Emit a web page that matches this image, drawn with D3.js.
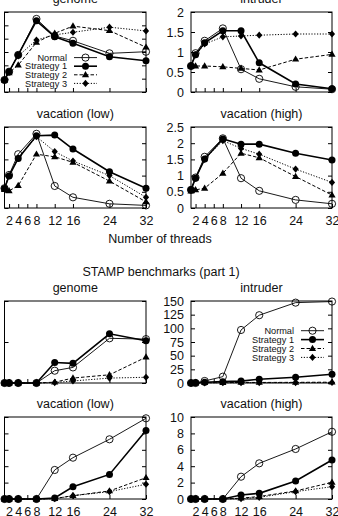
<!DOCTYPE html>
<html>
<head>
<meta charset="utf-8">
<script src="https://cdn.jsdelivr.net/npm/d3@7"></script>
<style>
  body { margin: 0; background: #fff; }
  svg { display: block; font-family: "Liberation Sans", Arial, sans-serif; }
</style>
</head>
<body>
<div id="chart"></div>
<script>
/* STAMP benchmarks: speedup (top) and part 1 (bottom), 4 strategies */

const threads = [1, 2, 4, 8, 12, 16, 24, 32];
const xTicks = [2, 4, 6, 8, 12, 16, 24, 32];
const names = ["Normal", "Strategy 1", "Strategy 2", "Strategy 3"];

// each panel: [Normal, Strategy 1, Strategy 2, Strategy 3]
const genomeTop = [
  [0.45, 0.76, 1.39, 2.74, 2.10, 1.92, 1.45, 1.51],
  [0.45, 0.76, 1.39, 2.67, 2.07, 1.83, 1.32, 1.17],
  [0.45, 0.72, 1.01, 1.86, 2.20, 2.47, 2.30, 1.68],
  [0.45, 0.76, 1.35, 1.95, 2.14, 2.24, 2.43, 2.29]
];
const intruderTop = [
  [0.65, 0.97, 1.28, 1.59, 0.57, 0.33, 0.13, 0.07],
  [0.65, 0.93, 1.23, 1.53, 1.53, 0.73, 0.20, 0.08],
  [0.65, 0.65, 0.65, 0.63, 0.59, 0.55, 0.82, 0.94],
  [0.65, 0.93, 1.20, 1.38, 1.40, 1.42, 1.45, 1.45]
];
const vacLowTop = [
  [0.61, 1.02, 1.66, 2.29, 0.68, 0.33, 0.13, 0.08],
  [0.60, 0.99, 1.53, 2.23, 2.25, 1.82, 1.12, 0.61],
  [0.57, 0.53, 0.69, 1.66, 1.58, 1.41, 0.83, 0.19],
  [0.60, 0.99, 1.55, 2.20, 1.74, 1.45, 1.00, 0.33]
];
const vacHighTop = [
  [0.56, 0.94, 1.58, 2.15, 0.92, 0.53, 0.25, 0.13],
  [0.56, 0.92, 1.51, 2.13, 1.97, 1.97, 1.69, 1.48],
  [0.52, 0.56, 0.61, 1.07, 1.69, 1.55, 0.97, 0.40],
  [0.56, 0.92, 1.50, 2.08, 1.84, 1.66, 1.20, 0.79]
];
const genomeBottom = [
  [0, 0, 0, 0, 0.30, 0.38, 1.09, 1.07],
  [0, 0, 0, 0, 0.50, 0.48, 1.20, 1.03],
  [0, 0, 0, 0, 0.02, 0.12, 0.20, 0.63],
  [0, 0, 0, 0, 0.01, 0.05, 0.12, 0.14]
];
const intruderBottom = [
  [0, 0, 3.7, 11.6, 97, 124, 147, 149],
  [0, 0.5, 1.5, 2.5, 3.5, 7, 10.4, 16],
  [0, 0.3, 0.6, 0.8, 1, 1, 1.2, 1.5],
  [0, 0.2, 0.4, 0.5, 0.6, 0.7, 0.8, 0.9]
];
const vacLowBottom = [
  [0, 0, 0, 0, 1.77, 2.52, 3.64, 4.92],
  [0, 0, 0, 0, 0.06, 0.75, 1.50, 4.17],
  [0, 0, 0, 0, 0.03, 0.20, 0.49, 1.30],
  [0, 0, 0, 0, 0.02, 0.20, 0.45, 0.90]
];
const vacHighBottom = [
  [0, 0, 0, 0, 2.72, 4.35, 6.10, 8.20],
  [0, 0, 0, 0, 0.49, 0.69, 2.20, 4.76],
  [0, 0, 0, 0, 0.10, 0.30, 0.98, 2.03],
  [0, 0, 0, 0, 0.05, 0.20, 0.90, 1.50]
];

const width = 338,
      height = 516;

const cols = [[4.5, 146], [191, 332]];
const rows = [[12, 92], [127, 208], [301, 383], [417, 499]];

/* line style per series */
const styles = [
  { w: 0.9, dash: null, mark: "open" },
  { w: 1.6, dash: null, mark: "dot" },
  { w: 1, dash: "3.5,2", mark: "tri" },
  { w: 1, dash: "1.2,1.6", mark: "dia" }
];

const panels = [
  { title: "genome", data: genomeTop, max: 3, step: 0.5, col: 0, row: 0, yLabels: false },
  { title: "intruder", data: intruderTop, max: 2, step: 0.5, col: 1, row: 0, yLabels: true },
  { title: "vacation (low)", data: vacLowTop, max: 2.5, step: 0.5, col: 0, row: 1, yLabels: false },
  { title: "vacation (high)", data: vacHighTop, max: 2.5, step: 0.5, col: 1, row: 1, yLabels: true },
  { title: "genome", data: genomeBottom, max: 2, step: 1, col: 0, row: 2, yLabels: false },
  { title: "intruder", data: intruderBottom, max: 150, step: 25, col: 1, row: 2, yLabels: true },
  { title: "vacation (low)", data: vacLowBottom, max: 5, step: 1, col: 0, row: 3, yLabels: false },
  { title: "vacation (high)", data: vacHighBottom, max: 10, step: 2, col: 1, row: 3, yLabels: true }
];

let svg = d3.select("#chart")
    .append("svg")
    .attr("width", width)
    .attr("height", height)
    .attr("viewBox", [0, 0, width, height]);

/* markers */
function marker(g, kind, cx, cy) {
    if (kind === "open") {
        g.append("circle").attr("cx", cx).attr("cy", cy).attr("r", 3.6)
            .attr("fill", "none").attr("stroke", "#000").attr("stroke-width", 0.9);
    } else if (kind === "dot") {
        g.append("circle").attr("cx", cx).attr("cy", cy).attr("r", 3.5).attr("fill", "#000");
    } else if (kind === "tri") {
        g.append("path").attr("d", `M${cx},${cy - 3.8}L${cx + 3.6},${cy + 2.4}L${cx - 3.6},${cy + 2.4}Z`)
            .attr("fill", "#000");
    } else {
        g.append("path").attr("d", `M${cx},${cy - 3.6}L${cx + 3.1},${cy}L${cx},${cy + 3.6}L${cx - 3.1},${cy}Z`)
            .attr("fill", "#000");
    }
}

function drawPanel(p) {
    const [x0, x1] = cols[p.col],
          [top, bottom] = rows[p.row];

    let x = d3.scaleLinear()
        .domain([1, 32])
        .range([x0, x1]);

    let y = d3.scaleLinear()
        .domain([0, p.max])
        .range([bottom, top]);

    const g = svg.append("g");

    const yVals = d3.range(0, p.max + p.step / 2, p.step);

    // left ticks, inward
    g.append("g")
        .attr("transform", `translate(${x0},0)`)
        .call(d3.axisLeft(y).tickValues(yVals).tickSizeInner(-4).tickSizeOuter(0).tickPadding(7)
            .tickFormat(p.yLabels ? d => String(d) : ""))
        .call(g => g.select(".domain").remove())
        .attr("font-size", 12.5)
        .attr("font-family", null)
        .call(g => g.selectAll("text").attr("fill", "#111"));

    // mirrored ticks on the right
    g.append("g")
        .attr("transform", `translate(${x1},0)`)
        .call(d3.axisRight(y).tickValues(yVals).tickSizeInner(-4).tickSizeOuter(0).tickFormat(""))
        .call(g => g.select(".domain").remove());

    // bottom ticks, labels only on the lower row of each block
    const showX = p.row === 1 || p.row === 3;
    g.append("g")
        .attr("transform", `translate(0,${bottom})`)
        .call(d3.axisBottom(x).tickValues(xTicks).tickSizeInner(-4).tickSizeOuter(0)
            .tickPadding(p.row === 3 ? 7.8 : 8.6)
            .tickFormat(showX ? d => String(d) : ""))
        .call(g => g.select(".domain").remove())
        .attr("font-size", 12.5)
        .attr("font-family", null)
        .call(g => g.selectAll("text").attr("fill", "#111"));

    g.append("rect")
        .attr("x", x0)
        .attr("y", top)
        .attr("width", x1 - x0)
        .attr("height", bottom - top)
        .attr("fill", "none")
        .attr("stroke", "#000")
        .attr("stroke-width", 1);

    g.append("text")
        .attr("x", (x0 + x1) / 2)
        .attr("y", top - 9)
        .attr("text-anchor", "middle")
        .attr("font-size", 12.5)
        .attr("fill", "#111")
        .text(p.title);

    const line = d3.line()
        .x((d, i) => x(threads[i]))
        .y(d => y(d));

    p.data.forEach((series, s) => {
        const st = styles[s];
        g.append("path")
            .attr("d", line(series))
            .attr("fill", "none")
            .attr("stroke", "#000")
            .attr("stroke-width", st.w)
            .attr("stroke-dasharray", st.dash);
        series.forEach((v, i) => marker(g, st.mark, x(threads[i]), y(v)));
    });
}

panels.forEach(drawPanel);

/* legends: top-left genome and bottom intruder */
function legend(xEnd, y0, gap) {
    const g = svg.append("g");
    names.forEach((n, s) => {
        const st = styles[s],
              yy = y0 + s * gap;
        g.append("text")
            .attr("x", xEnd)
            .attr("y", yy)
            .attr("dy", "0.34em")
            .attr("text-anchor", "end")
            .attr("font-size", 9.2)
            .attr("fill", "#111")
            .text(n);
        g.append("line")
            .attr("x1", xEnd + 7).attr("x2", xEnd + 30)
            .attr("y1", yy).attr("y2", yy)
            .attr("stroke", "#000")
            .attr("stroke-width", st.w)
            .attr("stroke-dasharray", st.dash);
        marker(g, st.mark, xEnd + 18.5, yy);
    });
}

legend(67, 57.6, 8.6);
legend(294, 330.7, 8.9);

svg.append("text")
    .attr("x", 160)
    .attr("y", 243)
    .attr("text-anchor", "middle")
    .attr("font-size", 12.5)
    .attr("fill", "#111")
    .text("Number of threads");

svg.append("text")
    .attr("x", 161)
    .attr("y", 276)
    .attr("text-anchor", "middle")
    .attr("font-size", 12.5)
    .attr("fill", "#111")
    .text("STAMP benchmarks (part 1)");
</script>
</body>
</html>
